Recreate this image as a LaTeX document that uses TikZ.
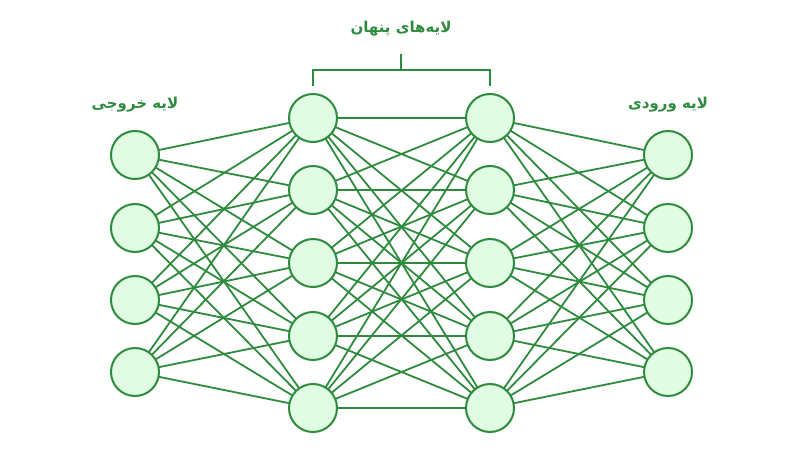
\documentclass[tikz,border=0pt]{standalone}
\usepackage{fontspec}
\newfontfamily\arabicfont[Script=Arabic]{DejaVu Sans}
\TeXXeTstate=1
\definecolor{lc}{HTML}{2E8B3E}
\definecolor{fc}{HTML}{E0FDE4}
\begin{document}
\begin{tikzpicture}[x=1pt,y=-1pt,
  neuron/.style={circle,draw=lc,fill=fc,line width=2pt,minimum size=48pt,inner sep=0pt},
  conn/.style={draw=lc,line width=1.8pt},
  lbl/.style={text=lc,font=\arabicfont\bfseries\fontsize{15}{18}\selectfont}]
\useasboundingbox (0,0) rectangle (800,457);
\foreach \i/\y in {1/155,2/228,3/300,4/372}{
  \coordinate (pa\i) at (135,\y);
  \coordinate (pd\i) at (668,\y);}
\foreach \i/\y in {1/118,2/190,3/263,4/336,5/408}{
  \coordinate (pb\i) at (313,\y);
  \coordinate (pc\i) at (490,\y);}
\foreach \i in {1,...,4}{\foreach \j in {1,...,5}{
  \draw[conn] (pa\i) -- (pb\j); \draw[conn] (pc\j) -- (pd\i);}}
\foreach \i in {1,...,5}{\foreach \j in {1,...,5}{\draw[conn] (pb\i) -- (pc\j);}}
\foreach \i in {1,...,4}{\node[neuron] (a\i) at (pa\i) {}; \node[neuron] (d\i) at (pd\i) {};}
\foreach \i in {1,...,5}{\node[neuron] (b\i) at (pb\i) {}; \node[neuron] (c\i) at (pc\i) {};}
\coordinate (br1) at (313,86); \coordinate (br2) at (490,86);
\coordinate (brm) at (401,71); \coordinate (brt) at (401,54);
\draw[conn] (br1) -- (313,70) -- (490,70) -- (br2);
\fill[lc] (400,54) rectangle (402,70);
\node[lbl] (t1) at (401,29) {\beginR لایه‌های پنهان\endR};
\node[lbl] (t2) at (135,105) {\beginR لایه خروجی\endR};
\node[lbl] (t3) at (668,105) {\beginR لایه ورودی\endR};
\end{tikzpicture}
\end{document}
